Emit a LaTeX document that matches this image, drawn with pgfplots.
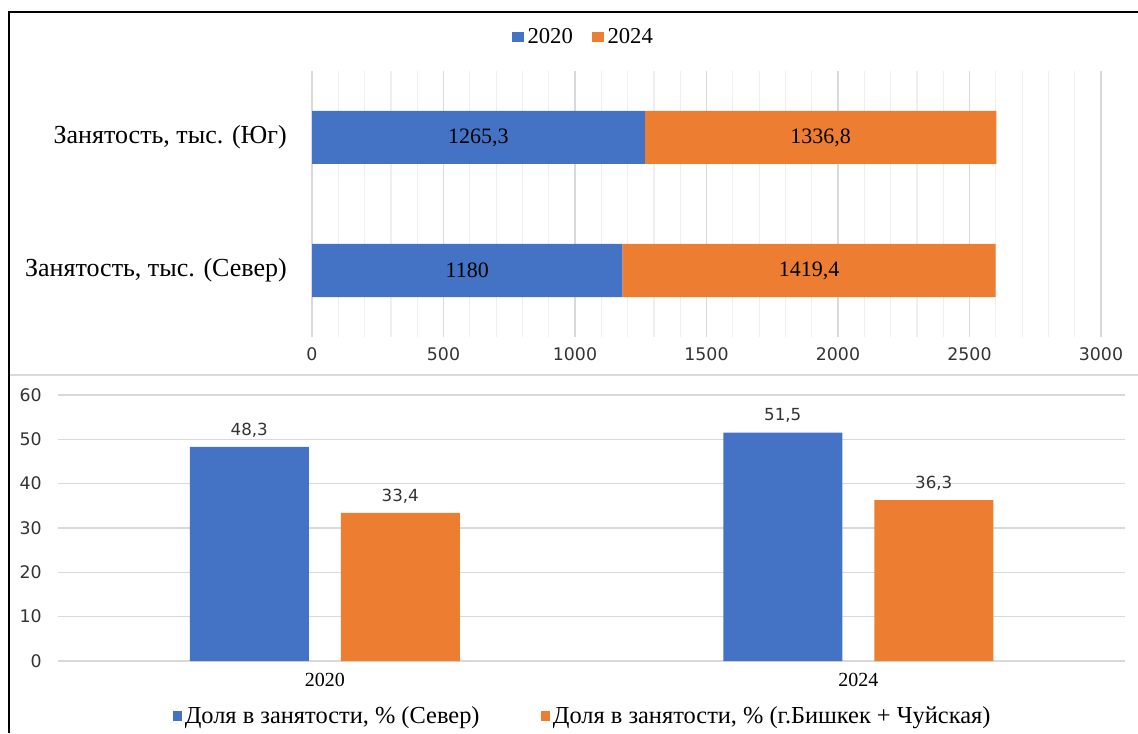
\documentclass[border=0pt]{standalone}
\usepackage{pgfplots}
\pgfplotsset{compat=1.18}
\usepackage{fontspec}
\setmainfont{Liberation Serif}
\newfontfamily\tickfont{DejaVu Sans}
\definecolor{cblue}{HTML}{4472C4}
\definecolor{corange}{HTML}{ED7D31}
\definecolor{gridc}{HTML}{D9D9D9}
\definecolor{minorc}{HTML}{EFEFEF}
\pgfplotsset{topgeom/.style={
  at={(234pt,297pt)}, anchor=south west, scale only axis,
  width=591.75pt, height=199.5pt,
  xmin=0, xmax=3000, ymin=-0.5, ymax=1.5}}
\begin{document}
\begin{tikzpicture}
\useasboundingbox (0,0) rectangle (853.5pt,549.75pt);
\draw[gridc, line width=1pt] (7.5pt,268.5pt) -- (853.5pt,268.5pt);
% top chart
\begin{axis}[
  topgeom,
  xbar stacked, bar width=39.75pt,
  ytick={0,1}, yticklabels={{Занятость, тыс. (Север)},{Занятость, тыс. (Юг)}},
  xtick={0,500,...,3000}, minor x tick num=4,
  xmajorgrids, xminorgrids,
  major grid style={gridc, line width=0.9pt},
  minor grid style={minorc, line width=0.9pt},
  axis line style={draw=none},
  tick style={draw=none},
  /pgf/number format/1000 sep={},
  /pgf/number format/assume math mode=true,
  scaled x ticks=false,
  xticklabel style={font=\tickfont\fontsize{13}{15}\selectfont, anchor=center, yshift=-12.75pt, text=black!80},
  yticklabel style={font=\fontsize{19.5}{21}\selectfont, anchor=east, inner sep=0pt, xshift=-18.75pt},
  legend columns=2,
  legend style={at={(0.345,1.128)}, anchor=center, draw=none, fill=none,
    font=\fontsize{17}{19}\selectfont,
    nodes={inner xsep=3pt},
    /tikz/every even column/.append style={column sep=11pt}},
  legend image code/.code={\fill[#1] (0pt,-3.75pt) rectangle (9pt,3.75pt);},
]
\addplot[fill=cblue, draw=none] coordinates {(1180,0) (1265.3,1)};
\addplot[fill=corange, draw=none] coordinates {(1419.4,0) (1336.8,1)};
\legend{2020,2024}
\end{axis}
% segment labels (at segment midpoints)
\begin{axis}[
  topgeom, hide axis,
  nodes near coords, point meta=explicit symbolic,
  every node near coord/.append style={anchor=center, inner sep=0pt, font=\fontsize{16.5}{18}\selectfont, text=black},
]
\addplot[only marks, mark=none] coordinates {(590,0) [1180] (632.65,1) [1265,3] (1889.7,0) [1419,4] (1933.7,1) [1336,8]};
\end{axis}
% bottom chart
\begin{axis}[
  at={(43.5pt,54pt)}, anchor=south west, scale only axis,
  width=800.25pt, height=199.5pt,
  ybar=24pt, bar width=89.25pt,
  xmin=-0.5, xmax=1.5, ymin=0, ymax=60,
  xtick={0,1}, xticklabels={2020,2024},
  ytick={0,10,...,60},
  ymajorgrids, major grid style={gridc, line width=0.9pt},
  axis line style={draw=none}, tick style={draw=none},
  /pgf/number format/assume math mode=true,
  xticklabel style={font=\fontsize{15}{17}\selectfont, anchor=center, yshift=-9.75pt},
  yticklabel style={font=\tickfont\fontsize{13}{15}\selectfont, anchor=east, inner sep=0pt, xshift=-12pt, text=black!80},
  legend columns=2,
  legend style={at={(0.492,-0.207)}, anchor=center, draw=none, fill=none,
    font=\fontsize{18.3}{20}\selectfont,
    nodes={inner xsep=2pt},
    /tikz/every even column/.append style={column sep=44pt}},
  legend image code/.code={\fill[#1] (0pt,-3.5pt) rectangle (7pt,3.5pt);},
  nodes near coords, point meta=explicit symbolic,
  every node near coord/.append style={anchor=center, inner sep=0pt, yshift=12.75pt, font=\tickfont\fontsize{12.5}{14}\selectfont, text=black!80},
]
\addplot[fill=cblue, draw=none] coordinates {(0,48.3) [48,3] (1,51.5) [51,5]};
\addplot[fill=corange, draw=none] coordinates {(0,33.4) [33,4] (1,36.3) [36,3]};
\legend{{Доля в занятости, \% (Север)},{Доля в занятости, \% (г.Бишкек + Чуйская)}}
\end{axis}
\draw[black, line width=1.6pt] (6.75pt,0pt) -- (6.75pt,540.75pt) -- (853.5pt,540.75pt);
\end{tikzpicture}
\end{document}
